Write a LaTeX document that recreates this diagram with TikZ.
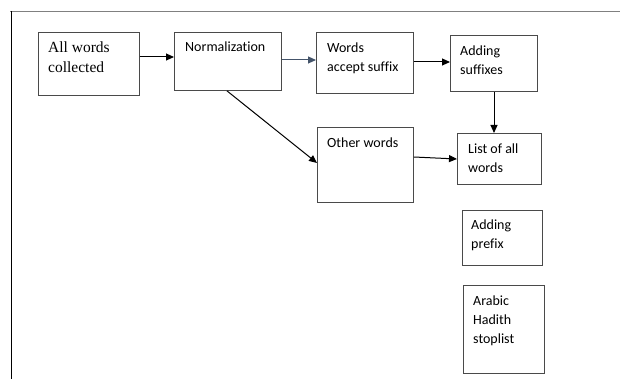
\documentclass[tikz,border=0pt]{standalone}
\usepackage{fontspec}
\setmainfont[Ligatures=NoCommon]{Carlito}
\newfontfamily\serifface{Liberation Serif}
\usetikzlibrary{arrows.meta}
\definecolor{boxgray}{HTML}{4A4A4A}
\definecolor{slateblue}{HTML}{44546A}
\tikzset{
  x=1pt, y=-1pt,
  boxnode/.style={draw=boxgray, line width=0.9pt, inner sep=0pt, anchor=north west},
  lbl/.style={anchor=north west, inner sep=0pt, align=left, font=\fontsize{14}{19}\selectfont},
  slbl/.style={anchor=north west, inner sep=0pt, align=left, font=\serifface\fontsize{15.5}{20}\selectfont},
  arr/.style={line width=1pt, -{Triangle[length=8pt,width=7pt]}}
}
\newcommand{\mkbox}[5]{\node[boxnode, minimum width=#4-#2, minimum height=#5-#3] (#1) at (#2,#3) {};}
\begin{document}
\begin{tikzpicture}
\useasboundingbox (0,0) rectangle (620,379);
\coordinate (tl) at (10,11);
\coordinate (tr) at (620,11);
\coordinate (bl) at (11,379);
\draw[gray, line width=0.8pt] (tl) -- (tr);
\draw[black, line width=0.9pt] (11,11) -- (bl);

\mkbox{all}{38}{32}{139}{95}
\mkbox{norm}{174}{32}{281}{90}
\mkbox{wacc}{316}{32}{413}{93}
\mkbox{adds}{450}{35}{537}{91}
\mkbox{oth}{317}{127}{413}{202}
\mkbox{list}{457}{133}{541}{184}
\mkbox{pref}{462}{210}{542}{265}
\mkbox{stop}{463}{285}{544}{373}

\node[slbl] (tall) at (48,42) {All words\\collected};
\node[lbl] (tnorm) at (185,41.5) {Normalization};
\node[lbl] (twacc) at (327,42.5) {Words\\accept suffix};
\node[lbl] (tadds) at (460,45.5) {Adding\\suffixes};
\node[lbl] (toth) at (327,137.5) {Other words};
\node[lbl] (tlist) at (468,143.5) {List of all\\words};
\node[lbl] (tpref) at (471,219.5) {Adding\\prefix};
\node[lbl] (tstop) at (473,295.5) {Arabic\\Hadith\\stoplist};

\draw[arr] (all.east |- 0,57) -- (norm.west |- 0,57);
\draw[arr, slateblue] (norm.east |- 0,60) -- (wacc.west |- 0,60);
\draw[arr] (wacc.east |- 0,62) -- (adds.west |- 0,62);
\draw[arr] (adds.south -| 494,0) -- (list.north -| 494,0);
\draw[arr] (norm.south -| 227,0) -- (oth.west |- 0,163);
\draw[arr] (oth.east |- 0,157) -- (list.west |- 0,159);
\end{tikzpicture}
\end{document}
